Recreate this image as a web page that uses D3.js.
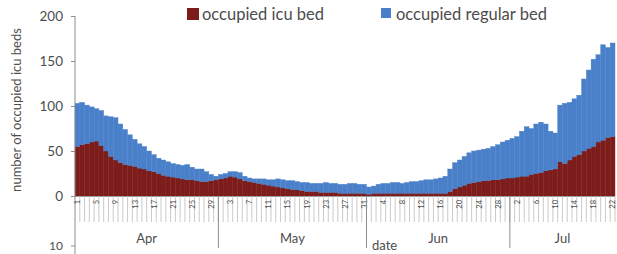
<!DOCTYPE html>
<html>
<head>
<meta charset="utf-8">
<script src="https://cdn.jsdelivr.net/npm/d3@7"></script>
<style>
  body { margin: 0; background: #fff; }
  text { font-family: Lato, "Open Sans", sans-serif; fill: #4d4d4d; }
</style>
</head>
<body>
<svg id="chart" width="617" height="254"></svg>
<script>
// daily values, Apr 1 .. Jul 22
const icuBeds = [
  55, 57, 58, 60, 61, 56, 50, 44, 40, 37, 35, 34, 33, 31, 30, 28, 27, 25, 23, 22, 21, 20, 19, 18, 18, 17, 16, 16, 17, 18,
  19, 20, 22, 21, 19, 17, 16, 15, 14, 13, 12, 11, 10, 9, 8, 7, 7, 6, 5, 5, 5, 4, 4, 4, 4, 3, 3, 3, 3, 3, 3,
  2, 3, 3, 3, 3, 3, 3, 3, 3, 3, 3, 3, 3, 3, 3, 3, 3, 5, 8, 10, 12, 14, 15, 16, 17, 17, 18, 18, 19, 20,
  20, 21, 22, 22, 24, 25, 26, 28, 29, 30, 38, 36, 40, 44, 46, 50, 53, 55, 60, 62, 65, 66
]
const totalBeds = [
  103, 104, 101, 99, 97, 95, 89, 88, 87, 80, 74, 68, 63, 58, 55, 50, 46, 42, 40, 38, 36, 35, 34, 35, 32, 30, 30, 27, 24, 22,
  24, 25, 27, 27, 26, 22, 20, 19, 19, 19, 18, 18, 19, 18, 17, 17, 16, 15, 15, 14, 14, 14, 15, 14, 14, 13, 13, 14, 14, 13, 13,
  10, 11, 13, 14, 14, 15, 15, 14, 15, 16, 16, 17, 18, 18, 19, 20, 22, 30, 37, 40, 44, 48, 50, 51, 52, 53, 55, 57, 60, 62,
  64, 66, 72, 77, 75, 80, 82, 80, 72, 70, 101, 103, 104, 108, 112, 130, 140, 152, 157, 168, 165, 170
]
const regularBeds = totalBeds.map((t, i) => t - icuBeds[i])
const yTicks = [0, 50, 100, 150, 200]
const months = ['Apr', 'May', 'Jun', 'Jul']
const seriesNames = ['occupied icu bed', 'occupied regular bed']
const colors = ['#7d1d1b', '#4a80c9']

const start = new Date(2020, 3, 1)
const days = icuBeds.map((v, i) => d3.timeDay.offset(start, i))
const rows = days.map((d, i) => ({date: d, icu: icuBeds[i], regular: regularBeds[i]}))

const svg = d3.select('#chart')
const plotLeft = 75, plotRight = 615, plotTop = 16, base = 196

const x = d3.scaleBand().domain(days).range([plotLeft, plotRight]).padding(0)
const y = d3.scaleLinear().domain([0, 200]).range([base, plotTop])

const stack = d3.stack().keys(['icu', 'regular'])(rows)

// bars
svg.append('g')
  .selectAll('g')
  .data(stack)
  .join('g')
    .attr('fill', (d, i) => colors[i])
    .attr('stroke', (d, i) => colors[i])
    .attr('stroke-width', 0.4)
  .selectAll('rect')
  .data(d => d)
  .join('rect')
    .attr('x', d => x(d.data.date))
    .attr('width', x.bandwidth())
    .attr('y', d => y(d[1]))
    .attr('height', d => y(d[0]) - y(d[1]))

// y axis
const yAxis = svg.append('g')
  .attr('transform', `translate(${plotLeft},0)`)
  .call(d3.axisLeft(y).tickValues(yTicks).tickSize(4).tickPadding(8))
yAxis.select('.domain').remove()
yAxis.selectAll('line').attr('stroke', '#8c8c8c')
yAxis.selectAll('text').style('font-size', '13.5px').attr('fill', '#4d4d4d')
  .style('font-family', 'Lato, sans-serif')

svg.append('line')
  .attr('x1', plotLeft).attr('x2', plotLeft)
  .attr('y1', plotTop).attr('y2', 254)
  .attr('stroke', '#8c8c8c')

// -10 tick peeking in at the bottom
svg.append('line').attr('x1', plotLeft - 4).attr('x2', plotLeft).attr('y1', 246).attr('y2', 246).attr('stroke', '#8c8c8c')
svg.append('text').attr('x', plotLeft - 12).attr('y', 250).attr('text-anchor', 'end')
  .style('font-size', '12px').text('10')

// y title
svg.append('text')
  .attr('transform', 'translate(21,110) rotate(-90)')
  .attr('text-anchor', 'middle')
  .style('font-size', '13px')
  .text('number of occupied icu beds')

// x axis band: day ticks and rotated day labels
svg.append('line')
  .attr('x1', plotLeft).attr('x2', plotRight)
  .attr('y1', base + 0.5).attr('y2', base + 0.5)
  .attr('stroke', '#9a9a9a')

const band = svg.append('g')
band.selectAll('line')
  .data(days)
  .join('line')
    .attr('x1', d => x(d) + x.bandwidth())
    .attr('x2', d => x(d) + x.bandwidth())
    .attr('y1', base).attr('y2', 222)
    .attr('stroke', '#bdbdbd')
    .attr('stroke-width', 0.8)

band.selectAll('text')
  .data(days.filter((d, i) => i % 4 === 0))
  .join('text')
    .attr('transform', d => `translate(${x(d) + x.bandwidth() / 2 + 2.8},200) rotate(-90)`)
    .attr('text-anchor', 'end')
    .style('font-size', '7.5px')
    .attr('fill', '#444')
    .text(d => d.getDate())

// month groups
const monthStarts = months.map((m, i) => new Date(2020, 3 + i, 1))
svg.selectAll('.msep')
  .data(monthStarts.slice(1))
  .join('line')
    .attr('class', 'msep')
    .attr('x1', d => x(d)).attr('x2', d => x(d))
    .attr('y1', base).attr('y2', 248)
    .attr('stroke', '#8c8c8c')

svg.selectAll('.mlabel')
  .data(monthStarts)
  .join('text')
    .attr('class', 'mlabel')
    .attr('x', (d, i) => {
      const end = i < monthStarts.length - 1 ? x(monthStarts[i + 1]) : plotRight
      return (x(d) + end) / 2
    })
    .attr('y', 243)
    .attr('text-anchor', 'middle')
    .style('font-size', '13px')
    .text((d, i) => months[i])

svg.append('text')
  .attr('x', 372).attr('y', 250)
  .style('font-size', '13px')
  .text('date')

// legend
const legend = svg.append('g')
const legendX = [187, 381]
seriesNames.forEach((name, i) => {
  legend.append('rect')
    .attr('x', legendX[i]).attr('y', 8)
    .attr('width', i === 0 ? 12 : 10).attr('height', i === 0 ? 12 : 10)
    .attr('fill', colors[i])
  legend.append('text')
    .attr('x', legendX[i] + 15).attr('y', 20)
    .style('font-size', '16.5px')
    .text(name)
})
</script>
</body>
</html>
